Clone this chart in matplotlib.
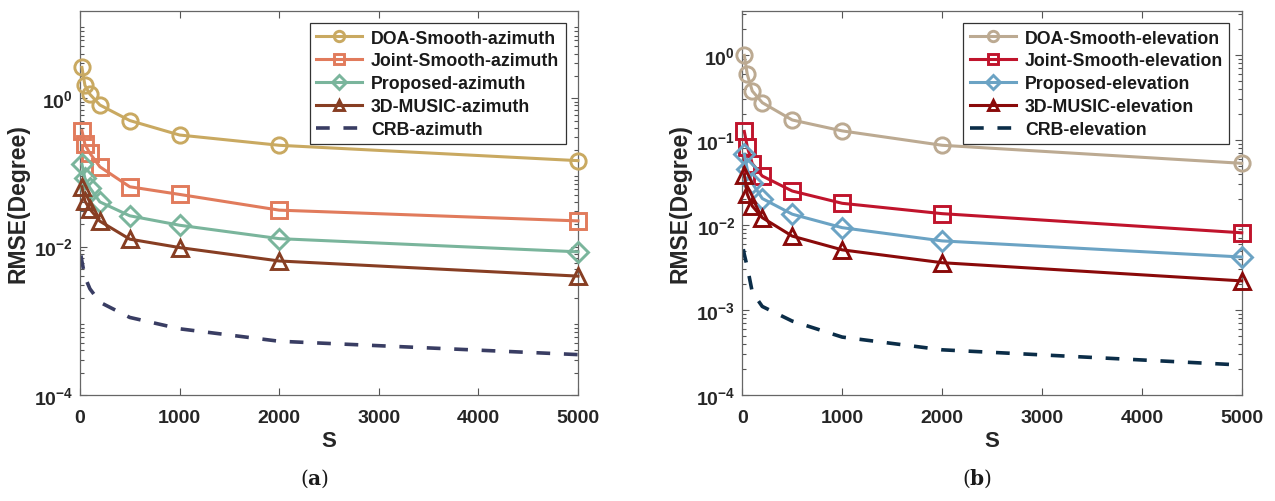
import numpy as np
import matplotlib
matplotlib.use("Agg")
import matplotlib.pyplot as plt

plt.rcParams['font.family'] = ['Liberation Sans', 'DejaVu Sans']
plt.rcParams['font.weight'] = 'bold'
plt.rcParams['mathtext.fontset'] = 'custom'
plt.rcParams['mathtext.rm'] = 'Liberation Sans:bold'
plt.rcParams['mathtext.default'] = 'regular'

# snapshot counts
S = [20, 50, 100, 200, 500, 1000, 2000, 5000]
crb_S = [10, 20, 50, 100, 200, 500, 1000, 2000, 5000]

# (a) azimuth RMSE
doa_az = [2.60, 1.49, 1.13, 0.81, 0.50, 0.319, 0.232, 0.144]
joint_az = [0.366, 0.239, 0.181, 0.119, 0.064, 0.0505, 0.031, 0.0222]
prop_az = [0.129, 0.083, 0.062, 0.040, 0.026, 0.0194, 0.0128, 0.0085]
music_az = [0.064, 0.041, 0.032, 0.022, 0.0126, 0.0097, 0.0064, 0.0040]
crb_az = [7.6e-3, 6.3e-3, 3.9e-3, 2.7e-3, 1.78e-3, 1.11e-3, 7.8e-4, 5.3e-4, 3.5e-4]

# (b) elevation RMSE
doa_el = [0.99, 0.59, 0.377, 0.275, 0.172, 0.128, 0.0867, 0.0532]
joint_el = [0.126, 0.083, 0.0527, 0.0377, 0.0251, 0.018, 0.0136, 0.0081]
prop_el = [0.068, 0.045, 0.031, 0.0205, 0.0134, 0.0093, 0.0065, 0.0042]
music_el = [0.039, 0.023, 0.0167, 0.0122, 0.0074, 0.0051, 0.0036, 0.0022]
crb_el = [5.2e-3, 4.5e-3, 3.2e-3, 1.62e-3, 1.1e-3, 7.4e-4, 4.8e-4, 3.4e-4, 2.25e-4]

fig = plt.figure(figsize=(12.75, 5.02), dpi=100)
ax1 = fig.add_axes([0.0627, 0.2112, 0.3906, 0.765])
ax2 = fig.add_axes([0.5822, 0.2112, 0.3917, 0.765])


def draw_panel(ax, curves, crb, crb_color, crb_label, ylim, yticks):
    for vals, color, marker, label in curves:
        ms = 10 if marker == 'D' else 11
        ax.plot(S, vals, color=color, lw=2.2, marker=marker, ms=ms, mew=2.1,
                mfc='none', mec=color, label=label, clip_on=False, zorder=3)
    ax.plot(crb_S, crb, color=crb_color, lw=2.6, ls=(0, (3.8, 3.8)), label=crb_label)

    ax.set_yscale('log')
    ax.set_xlim(0, 5000)
    ax.set_ylim(*ylim)
    ax.set_xticks([0, 1000, 2000, 3000, 4000, 5000])
    ax.set_yticks(yticks)
    ax.set_yticklabels([r'$10^{%d}$' % int(np.log10(t)) for t in yticks])
    ax.yaxis.set_minor_locator(matplotlib.ticker.LogLocator(base=10, subs=np.arange(2, 10), numticks=20))
    ax.yaxis.set_minor_formatter(matplotlib.ticker.NullFormatter())
    ax.tick_params(which='both', direction='in', top=True, right=True, colors='#555555',
                   labelcolor='#262626', labelsize=14, width=0.8)
    ax.tick_params(which='major', length=5)
    ax.tick_params(which='minor', length=3)
    ax.tick_params(axis='x', pad=10)
    ax.tick_params(axis='y', pad=5)
    for sp in ax.spines.values():
        sp.set_color('#666666')
        sp.set_linewidth(0.9)
    ax.set_xlabel('S', fontsize=16, fontweight='bold', color='#262626', labelpad=3)
    ax.set_ylabel('RMSE(Degree)', fontsize=16.5, fontweight='bold', color='#262626', labelpad=3)
    leg = ax.legend(loc='upper right', fontsize=12.8, fancybox=False, framealpha=1,
                    edgecolor='#333333', handlelength=2.6, markerscale=0.68,
                    borderaxespad=0.7, labelspacing=0.33, handletextpad=0.5, borderpad=0.35)
    leg.get_frame().set_linewidth(0.9)
    leg.set_zorder(5)
    for t in leg.get_texts():
        t.set_color('#1a1a1a')


draw_panel(ax1, [
    (doa_az, '#C9A961', 'o', 'DOA-Smooth-azimuth'),
    (joint_az, '#E17B5C', 's', 'Joint-Smooth-azimuth'),
    (prop_az, '#7AB59C', 'D', 'Proposed-azimuth'),
    (music_az, '#873E23', '^', '3D-MUSIC-azimuth'),
], crb_az, '#393D63', 'CRB-azimuth', (1e-4, 15), [1e-4, 1e-2, 1e0])

draw_panel(ax2, [
    (doa_el, '#BCAA92', 'o', 'DOA-Smooth-elevation'),
    (joint_el, '#C0142C', 's', 'Joint-Smooth-elevation'),
    (prop_el, '#6BA3C4', 'D', 'Proposed-elevation'),
    (music_el, '#8A0A0A', '^', '3D-MUSIC-elevation'),
], crb_el, '#0B2D48', 'CRB-elevation', (1e-4, 3.3), [1e-4, 1e-3, 1e-2, 1e-1, 1e0])

fig.text(0.247, 0.047, r'($\mathbf{a}$)', family='DejaVu Serif', math_fontfamily='dejavuserif',
         fontsize=14.5, fontweight='normal', ha='center', va='center', color='#1a1a1a')
fig.text(0.766, 0.047, r'($\mathbf{b}$)', family='DejaVu Serif', math_fontfamily='dejavuserif',
         fontsize=14.5, fontweight='normal', ha='center', va='center', color='#1a1a1a')

fig.savefig('out.png', dpi=100)
